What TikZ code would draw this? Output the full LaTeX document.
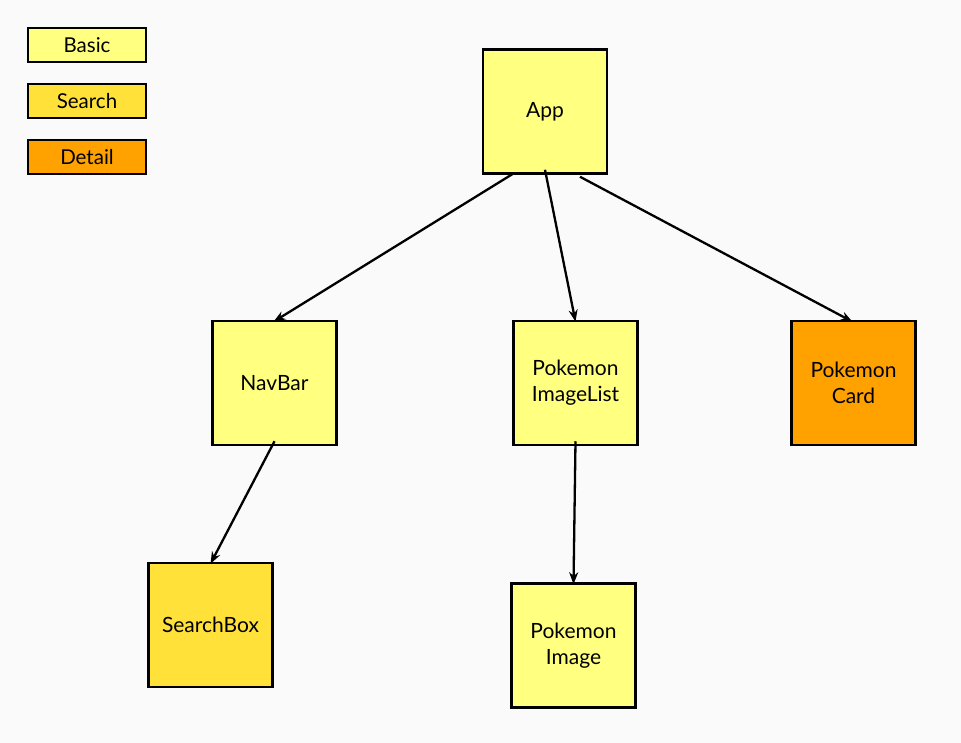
\documentclass[tikz,border=0pt]{standalone}
\usepackage{fontspec}
\setmainfont{Lato}
\usetikzlibrary{arrows.meta,calc}
\definecolor{bg}{RGB}{250,250,250}
\definecolor{basic}{RGB}{255,255,128}
\definecolor{search}{RGB}{255,225,58}
\definecolor{detail}{RGB}{255,162,0}
\begin{document}
\begin{tikzpicture}[x=1pt,y=-1pt,
  comp/.style={draw=black,line width=2.5pt,minimum width=124pt,minimum height=124pt,align=center,font=\fontsize{21}{26}\selectfont,inner sep=0pt},
  legend/.style={draw=black,line width=2.5pt,minimum width=118pt,minimum height=34pt,font=\fontsize{20.5}{24}\selectfont,inner sep=0pt},
  conn/.style={-{Stealth[length=12pt,width=9pt]},line width=2.3pt}]
\fill[bg] (0,0) rectangle (961,743);
\useasboundingbox (0,0) rectangle (961,743);
\node[legend,fill=basic] (lb) at (87,45) {Basic};
\node[legend,fill=search] (ls) at (87,101) {Search};
\node[legend,fill=detail] (ld) at (87,157) {Detail};
\node[comp,fill=basic] (app) at (545,111.5) {App};
\node[comp,fill=basic] (nav) at (274.5,383) {NavBar};
\node[comp,fill=basic] (list) at (575.5,383) {Pokemon\\ImageList};
\node[comp,fill=detail] (card) at (853.5,383) {Pokemon\\Card};
\node[comp,fill=search] (sb) at (210.5,625) {SearchBox};
\node[comp,fill=basic] (img) at (573.5,645.5) {Pokemon\\Image};
\draw[conn] ([xshift=-32pt,yshift=1pt]app.south) -- ([xshift=-1pt,yshift=-2pt]nav.north);
\draw[conn] ([yshift=5pt]app.south) -- ([yshift=-2pt]list.north);
\draw[conn] ([xshift=35pt,yshift=-2pt]app.south) -- ([xshift=-1pt,yshift=-2pt]card.north);
\draw[conn] ([yshift=5pt]nav.south) -- ([yshift=-2pt]sb.north);
\draw[conn] ([yshift=5pt]list.south) -- ([yshift=-2pt]img.north);
\end{tikzpicture}
\end{document}
